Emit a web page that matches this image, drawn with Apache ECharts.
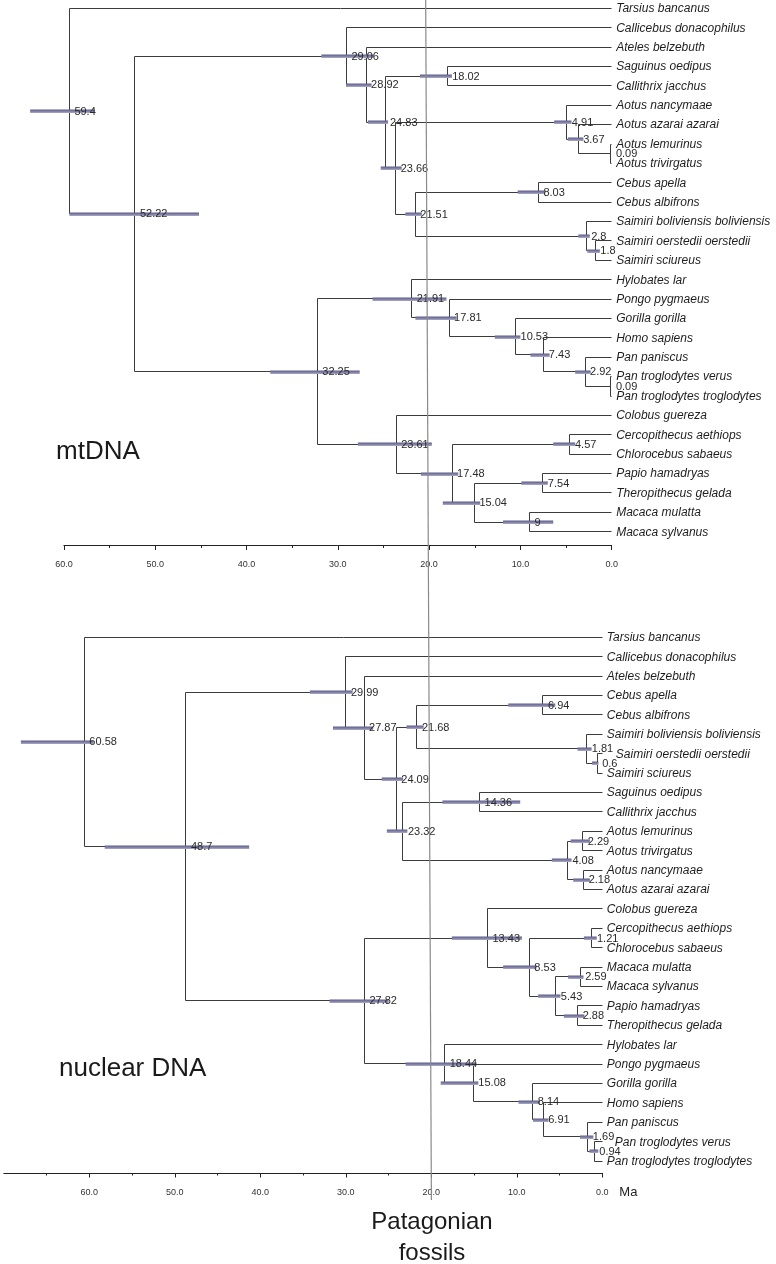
<!DOCTYPE html>
<html><head><meta charset="utf-8">
<script src="https://cdn.jsdelivr.net/npm/echarts@6/dist/echarts.min.js"></script>
<style>html,body{margin:0;padding:0;background:#fff}#c{width:776px;height:1264px}</style>
</head><body><div id="c"></div>
<script>
// ---------- data ----------
const fossilAge = 20;
const axisUnit = 'Ma';
const timeTicks = [0, 10, 20, 30, 40, 50, 60];

const mtLeaves = [
  'Tarsius bancanus','Callicebus donacophilus','Ateles belzebuth','Saguinus oedipus','Callithrix jacchus',
  'Aotus nancymaae','Aotus azarai azarai','Aotus lemurinus','Aotus trivirgatus','Cebus apella','Cebus albifrons',
  'Saimiri boliviensis boliviensis','Saimiri oerstedii oerstedii','Saimiri sciureus','Hylobates lar','Pongo pygmaeus',
  'Gorilla gorilla','Homo sapiens','Pan paniscus','Pan troglodytes verus','Pan troglodytes troglodytes',
  'Colobus guereza','Cercopithecus aethiops','Chlorocebus sabaeus','Papio hamadryas','Theropithecus gelada',
  'Macaca mulatta','Macaca sylvanus'
];
// [id, node height (Ma), label, HPD old, HPD young, child A, child B]
const mtNodes = [
  ['m1', 59.4, '59.4', 63.7, 56.6, 'Tarsius bancanus', 'm2'],
  ['m2', 52.22, '52.22', 59.4, 45.2, 'm3', 'm15'],
  ['m3', 29.06, '29.06', 31.8, 26.1, 'Callicebus donacophilus', 'm4'],
  ['m4', 26.9, '28.92', 29.1, 26.3, 'Ateles belzebuth', 'm5'],
  ['m5', 24.83, '24.83', 26.7, 24.5, 'm6', 'm7'],
  ['m6', 18.02, '18.02', 21.0, 17.5, 'Saguinus oedipus', 'Callithrix jacchus'],
  ['m7', 23.66, '23.66', 25.3, 23.0, 'm8', 'm11'],
  ['m8', 4.91, '4.91', 6.3, 4.4, 'Aotus nancymaae', 'm9'],
  ['m9', 3.67, '3.67', 4.8, 3.1, 'Aotus azarai azarai', 'm10'],
  ['m10', 0.09, '0.09', null, null, 'Aotus lemurinus', 'Aotus trivirgatus'],
  ['m11', 21.51, '21.51', 22.6, 20.8, 'm12', 'm13'],
  ['m12', 8.03, '8.03', 10.3, 7.3, 'Cebus apella', 'Cebus albifrons'],
  ['m13', 2.8, '2.8', 3.65, 2.4, 'Saimiri boliviensis boliviensis', 'm14'],
  ['m14', 1.8, '1.8', 2.67, 1.3, 'Saimiri oerstedii oerstedii', 'Saimiri sciureus'],
  ['m15', 32.25, '32.25', 37.4, 27.6, 'm16', 'm22'],
  ['m16', 21.91, '21.91', 26.2, 18.1, 'Hylobates lar', 'm17'],
  ['m17', 17.81, '17.81', 21.5, 17.0, 'Pongo pygmaeus', 'm18'],
  ['m18', 10.53, '10.53', 12.8, 10.0, 'Gorilla gorilla', 'm19'],
  ['m19', 7.43, '7.43', 8.9, 6.8, 'Homo sapiens', 'm20'],
  ['m20', 2.92, '2.92', 4.0, 2.3, 'Pan paniscus', 'm21'],
  ['m21', 0.09, '0.09', null, null, 'Pan troglodytes verus', 'Pan troglodytes troglodytes'],
  ['m22', 23.61, '23.61', 27.8, 19.7, 'Colobus guereza', 'm23'],
  ['m23', 17.48, '17.48', 20.9, 16.8, 'm24', 'm25'],
  ['m24', 4.57, '4.57', 6.4, 4.0, 'Cercopithecus aethiops', 'Chlorocebus sabaeus'],
  ['m25', 15.04, '15.04', 18.5, 14.4, 'm26', 'm27'],
  ['m26', 7.54, '7.54', 9.9, 7.0, 'Papio hamadryas', 'Theropithecus gelada'],
  ['m27', 9, '9', 11.9, 6.4, 'Macaca mulatta', 'Macaca sylvanus']
];

const nucLeaves = [
  'Tarsius bancanus','Callicebus donacophilus','Ateles belzebuth','Cebus apella','Cebus albifrons',
  'Saimiri boliviensis boliviensis','Saimiri oerstedii oerstedii','Saimiri sciureus','Saguinus oedipus',
  'Callithrix jacchus','Aotus lemurinus','Aotus trivirgatus','Aotus nancymaae','Aotus azarai azarai',
  'Colobus guereza','Cercopithecus aethiops','Chlorocebus sabaeus','Macaca mulatta','Macaca sylvanus',
  'Papio hamadryas','Theropithecus gelada','Hylobates lar','Pongo pygmaeus','Gorilla gorilla','Homo sapiens',
  'Pan paniscus','Pan troglodytes verus','Pan troglodytes troglodytes'
];
const nucNodes = [
  ['n1', 60.58, '60.58', 68.0, 59.5, 'Tarsius bancanus', 'n2'],
  ['n2', 48.7, '48.7', 58.2, 41.3, 'n3', 'n15'],
  ['n3', 29.99, '29.99', 34.2, 29.2, 'Callicebus donacophilus', 'n4'],
  ['n4', 27.87, '27.87', 31.5, 26.8, 'Ateles belzebuth', 'n5'],
  ['n5', 24.09, '24.09', 25.8, 23.3, 'n6', 'n10'],
  ['n6', 21.68, '21.68', 22.9, 20.9, 'n7', 'n8'],
  ['n7', 6.94, '6.94', 11.0, 5.5, 'Cebus apella', 'Cebus albifrons'],
  ['n8', 1.81, '1.81', 2.9, 1.25, 'Saimiri boliviensis boliviensis', 'n9'],
  ['n9', 0.6, '0.6', 1.2, 0.45, 'Saimiri oerstedii oerstedii', 'Saimiri sciureus'],
  ['n10', 23.32, '23.32', 25.2, 22.8, 'n11', 'n12'],
  ['n11', 14.36, '14.36', 18.7, 9.6, 'Saguinus oedipus', 'Callithrix jacchus'],
  ['n12', 4.08, '4.08', 5.9, 3.6, 'n13', 'n14'],
  ['n13', 2.29, '2.29', 3.7, 1.45, 'Aotus lemurinus', 'Aotus trivirgatus'],
  ['n14', 2.18, '2.18', 3.4, 1.45, 'Aotus nancymaae', 'Aotus azarai azarai'],
  ['n15', 27.82, '27.82', 31.9, 25.0, 'n16', 'n22'],
  ['n16', 13.43, '13.43', 17.6, 9.4, 'Colobus guereza', 'n17'],
  ['n17', 8.53, '8.53', 11.6, 7.7, 'n18', 'n19'],
  ['n18', 1.21, '1.21', 2.15, 0.65, 'Cercopithecus aethiops', 'Chlorocebus sabaeus'],
  ['n19', 5.43, '5.43', 7.5, 4.9, 'n20', 'n21'],
  ['n20', 2.59, '2.59', 4.0, 2.2, 'Macaca mulatta', 'Macaca sylvanus'],
  ['n21', 2.88, '2.88', 4.5, 2.1, 'Papio hamadryas', 'Theropithecus gelada'],
  ['n22', 18.44, '18.44', 23.0, 14.7, 'Hylobates lar', 'n23'],
  ['n23', 15.08, '15.08', 18.9, 14.5, 'Pongo pygmaeus', 'n24'],
  ['n24', 8.14, '8.14', 9.8, 7.3, 'Gorilla gorilla', 'n25'],
  ['n25', 6.91, '6.91', 8.1, 6.3, 'Homo sapiens', 'n26'],
  ['n26', 1.69, '1.69', 2.6, 1.05, 'Pan paniscus', 'n27'],
  ['n27', 0.94, '0.94', 1.5, 0.47, 'Pan troglodytes verus', 'Pan troglodytes troglodytes']
];

// ---------- build tree geometry in data space ----------
function build(leaves, nodes) {
  const y = {}, h = {}, byId = {};
  leaves.forEach((n, i) => { y[n] = i; h[n] = 0; });
  nodes.forEach(r => { byId[r[0]] = r; });
  function resolve(id) {
    if (id in y) return y[id];
    const r = byId[id];
    const v = (resolve(r[5]) + resolve(r[6])) / 2;
    y[id] = v; h[id] = r[1];
    return v;
  }
  nodes.forEach(r => resolve(r[0]));
  const segs = [], bars = [], labPts = [], labTxt = [];
  nodes.forEach(r => {
    const [id, ht, lab, lo, hi, a, b] = r;
    segs.push([ht, y[a], ht, y[b]]);
    segs.push([ht, y[a], h[a], y[a]]);
    segs.push([ht, y[b], h[b], y[b]]);
    if (lo != null) bars.push([lo, y[id], hi, y[id]]);
    labPts.push([ht, y[id]]); labTxt.push(lab);
  });
  return { segs, bars, labPts, labTxt, leafPts: leaves.map((n, i) => [0, i]), leafTxt: leaves };
}
const mt = build(mtLeaves, mtNodes);
const nuc = build(nucLeaves, nucNodes);

// ---------- chart ----------
const FONT = '"Liberation Sans", Arial, sans-serif';
const snap = v => Math.round(v - 0.5) + 0.5;
const barFill = new echarts.graphic.LinearGradient(0, 0, 0, 1, [
  { offset: 0, color: '#5e5e86' }, { offset: 0.5, color: '#7e7ea6' }, { offset: 1, color: '#ababc9' }
]);
// tip labels nudged right in the original where a node label crowds them (style only)
const leafNudge = { 1: { 'Saimiri oerstedii oerstedii': 9, 'Pan troglodytes verus': 8 } };

function treeSeries(t, gi) {
  const nudge = leafNudge[gi] || {};
  return [
    { type: 'custom', xAxisIndex: gi, yAxisIndex: gi, z: 2, silent: true, data: t.segs,
      renderItem: (p, api) => {
        const a = api.coord([api.value(0), api.value(1)]), b = api.coord([api.value(2), api.value(3)]);
        return { type: 'line', shape: { x1: snap(a[0]), y1: snap(a[1]), x2: snap(b[0]), y2: snap(b[1]) },
          style: { stroke: '#3c3c3c', lineWidth: 1 } };
      } },
    { type: 'custom', xAxisIndex: gi, yAxisIndex: gi, z: 3, silent: true, data: t.bars,
      renderItem: (p, api) => {
        const a = api.coord([api.value(0), api.value(1)]), b = api.coord([api.value(2), api.value(3)]);
        const x0 = Math.min(a[0], b[0]);
        return { type: 'rect', shape: { x: x0, y: Math.round(a[1]) - 1.5, width: Math.abs(b[0] - a[0]), height: 3.5 },
          style: { fill: barFill } };
      } },
    { type: 'custom', xAxisIndex: gi, yAxisIndex: gi, z: 4, silent: true, data: t.labPts,
      renderItem: (p, api) => {
        const a = api.coord([api.value(0), api.value(1)]);
        return { type: 'text', x: a[0] + 5, y: a[1] + 0.5,
          style: { text: t.labTxt[p.dataIndex], fill: '#2a2a2a', fontSize: 11, fontFamily: FONT, align: 'left', verticalAlign: 'middle' } };
      } },
    { type: 'custom', xAxisIndex: gi, yAxisIndex: gi, z: 4, silent: true, data: t.leafPts,
      renderItem: (p, api) => {
        const a = api.coord([api.value(0), api.value(1)]);
        const name = t.leafTxt[p.dataIndex];
        return { type: 'text', x: a[0] + 4.5 + (nudge[name] || 0), y: a[1] + 0.5,
          style: { text: name, fill: '#1e1e1e', fontSize: 12, fontStyle: 'italic', fontFamily: FONT, align: 'left', verticalAlign: 'middle' } };
      } }
  ];
}

function xAxisCfg(gi, max) {
  return {
    type: 'value', gridIndex: gi, inverse: true, min: 0, max: max, interval: 10, position: 'bottom',
    splitLine: { show: false },
    axisLine: { show: true, onZero: false, lineStyle: { color: '#222', width: 1 } },
    axisTick: { show: true, length: 4.5, customValues: timeTicks, lineStyle: { color: '#222' } },
    minorTick: { show: true, splitNumber: 2, length: 2.5, lineStyle: { color: '#222' } },
    axisLabel: { fontSize: 9, color: '#333', fontFamily: FONT, margin: 15, customValues: timeTicks,
      formatter: v => Number(v).toFixed(1) }
  };
}

const chart = echarts.init(document.getElementById('c'), null, { renderer: 'canvas' });
chart.setOption({
  animation: false,
  backgroundColor: '#fff',
  grid: [
    { left: 63.9, right: 164.3, top: 8.3, height: 537.2 },
    { left: 3.8, right: 173.7, top: 637.3, height: 535.7 }
  ],
  xAxis: [xAxisCfg(0, 60), xAxisCfg(1, 70)],
  yAxis: [
    { type: 'value', gridIndex: 0, inverse: true, min: 0, max: 27.71, show: false },
    { type: 'value', gridIndex: 1, inverse: true, min: 0, max: 27.613, show: false }
  ],
  series: [...treeSeries(mt, 0), ...treeSeries(nuc, 1)]
});

// fossil line through the fossil age on both time axes
const pTop = chart.convertToPixel({ xAxisIndex: 0, yAxisIndex: 0 }, [fossilAge, 27.71]);
const pBot = chart.convertToPixel({ xAxisIndex: 1, yAxisIndex: 1 }, [fossilAge, 27.613]);
const slope = (pBot[0] - pTop[0]) / (pBot[1] - pTop[1]);
const xAt = yy => pTop[0] + slope * (yy - pTop[1]);
const xAxisEnd = chart.convertToPixel({ xAxisIndex: 1, yAxisIndex: 1 }, [0, 27.613]);

chart.setOption({
  graphic: [
    { type: 'line', z: 10, silent: true, shape: { x1: xAt(0) - 1.5, y1: 0, x2: xAt(1200), y2: 1200 },
      style: { stroke: '#8a8a8a', lineWidth: 1.2 } },
    { type: 'text', left: 56, top: 439, z: 10, style: { text: 'mtDNA', fontSize: 26, fill: '#1a1a1a', fontFamily: FONT } },
    { type: 'text', left: 59, top: 1056, z: 10, style: { text: 'nuclear DNA', fontSize: 26, fill: '#1a1a1a', fontFamily: FONT } },
    { type: 'text', x: xAxisEnd[0] + 17, y: 1192, z: 10, style: { text: axisUnit, fontSize: 13, fill: '#222', fontFamily: FONT, verticalAlign: 'middle' } },
    { type: 'text', x: 432, y: 1222, z: 10, style: { text: 'Patagonian', fontSize: 24, fill: '#1a1a1a', fontFamily: FONT, align: 'center', verticalAlign: 'middle' } },
    { type: 'text', x: 432, y: 1253, z: 10, style: { text: 'fossils', fontSize: 24, fill: '#1a1a1a', fontFamily: FONT, align: 'center', verticalAlign: 'middle' } }
  ]
});
</script></body></html>
